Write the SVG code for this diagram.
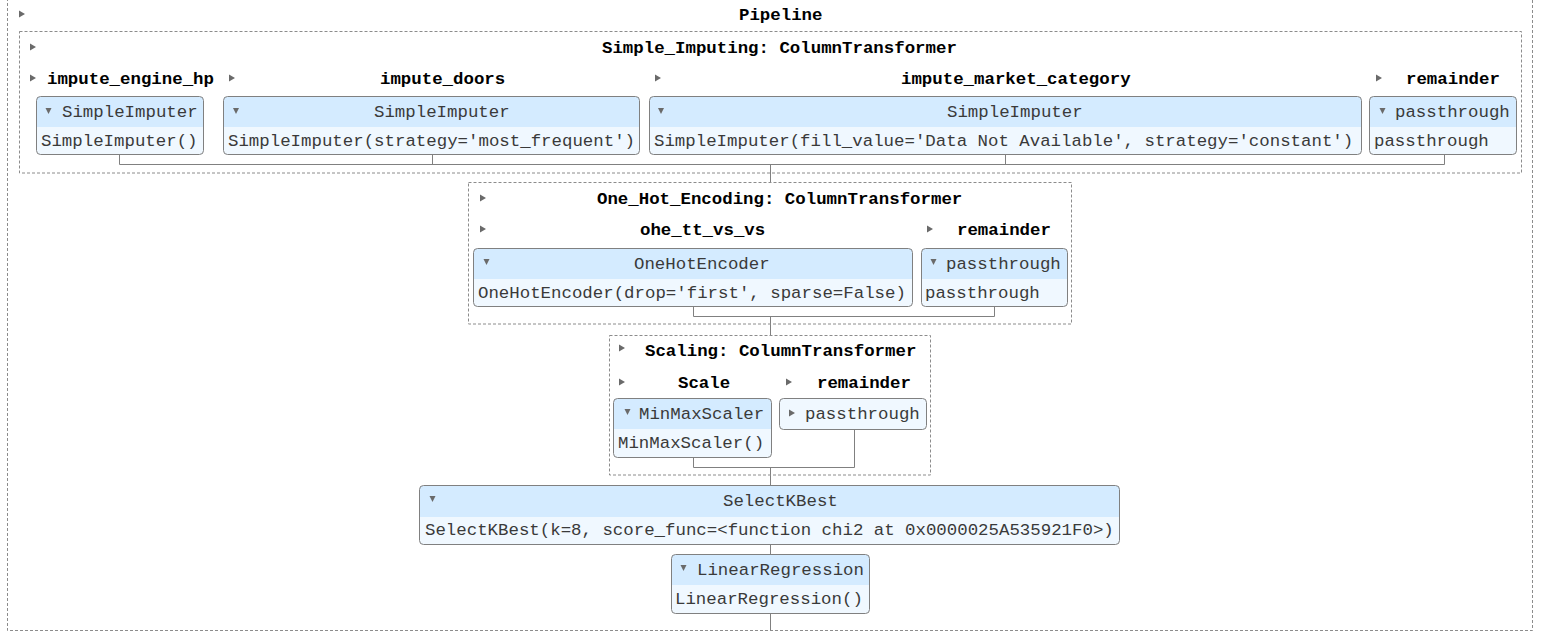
<svg xmlns="http://www.w3.org/2000/svg" width="1547" height="637" viewBox="0 0 1547 637">
<style>
text{font-family:"Liberation Mono","Courier New",monospace;font-size:17.4px;fill:#3a3a3a}
.b{font-weight:bold;fill:#000}
.dash{fill:none;stroke:#8c8c8c;stroke-width:1;stroke-dasharray:3 2}
.bg{fill:#f0f8ff}
.hd{fill:#d4ebff}
.bd{fill:none;stroke:#808080;stroke-width:1}
.ln{fill:none;stroke:#808080;stroke-width:1}
.tri{fill:#6a6a6a}
</style>
<defs>
<polygon id="tr" class="tri" points="0,-3.5 6,0 0,3.5"/>
<polygon id="td" class="tri" points="-3,-3 3,-3 0,3"/>
</defs>
<rect width="1547" height="637" fill="#fff"/>

<g id="connectors">
<path class="ln" d="M119.5,154 V164.5 H1444.5 V154 M432.5,154 V164.5 M1005.5,154 V164.5 M770.5,164.5 V182"/>
<path class="ln" d="M693.5,306 V316.5 H994.5 V306 M770.5,316.5 V335"/>
<path class="ln" d="M693.5,457 V467.5 H854.5 V430 M770.5,467.5 V485"/>
<path class="ln" d="M770.5,544 V554 M770.5,613 V630"/>
</g>

<g id="pipeline">
<rect class="dash" x="7.5" y="-10" width="1525" height="640.5"/>
<use href="#tr" x="19" y="14"/>
<text class="b" x="739" y="20">Pipeline</text>
</g>

<g id="simple_imputing">
<rect class="dash" x="19.5" y="31.5" width="1502" height="141.5"/>
<use href="#tr" x="30" y="47"/>
<text class="b" x="602" y="53">Simple_Imputing: ColumnTransformer</text>
</g>

<g id="impute_engine_hp">
<use href="#tr" x="30" y="78"/>
<text class="b" x="47" y="84">impute_engine_hp</text>
<rect class="bg" x="36.5" y="96.5" width="167" height="58" rx="4"/>
<rect class="hd" x="37" y="97" width="166" height="30"/>
<rect class="bd" x="36.5" y="96.5" width="167" height="58" rx="4"/>
<use href="#td" x="48.5" y="111"/>
<text x="62" y="117">SimpleImputer</text>
<text x="41" y="146">SimpleImputer()</text>
</g>

<g id="impute_doors">
<use href="#tr" x="229" y="78"/>
<text class="b" x="380" y="84">impute_doors</text>
<rect class="bg" x="223.5" y="96.5" width="416" height="58" rx="4"/>
<rect class="hd" x="224" y="97" width="415" height="30"/>
<rect class="bd" x="223.5" y="96.5" width="416" height="58" rx="4"/>
<use href="#td" x="236" y="111"/>
<text x="374" y="117">SimpleImputer</text>
<text x="228" y="146">SimpleImputer(strategy='most_frequent')</text>
</g>

<g id="impute_market_category">
<use href="#tr" x="655" y="78"/>
<text class="b" x="901" y="84">impute_market_category</text>
<rect class="bg" x="649.5" y="96.5" width="712" height="58" rx="4"/>
<rect class="hd" x="650" y="97" width="711" height="30"/>
<rect class="bd" x="649.5" y="96.5" width="712" height="58" rx="4"/>
<use href="#td" x="661" y="111"/>
<text x="947" y="117">SimpleImputer</text>
<text x="654" y="146">SimpleImputer(fill_value='Data Not Available', strategy='constant')</text>
</g>

<g id="imputing_remainder">
<use href="#tr" x="1376" y="78"/>
<text class="b" x="1406" y="84">remainder</text>
<rect class="bg" x="1369.5" y="96.5" width="147" height="58" rx="4"/>
<rect class="hd" x="1370" y="97" width="146" height="30"/>
<rect class="bd" x="1369.5" y="96.5" width="147" height="58" rx="4"/>
<use href="#td" x="1382.5" y="111"/>
<text x="1395" y="117">passthrough</text>
<text x="1374" y="146">passthrough</text>
</g>

<g id="one_hot_encoding">
<rect class="dash" x="468.5" y="182.5" width="603" height="141.5"/>
<use href="#tr" x="480" y="198"/>
<text class="b" x="597" y="204">One_Hot_Encoding: ColumnTransformer</text>
</g>

<g id="ohe_tt_vs_vs">
<use href="#tr" x="480" y="229"/>
<text class="b" x="640" y="235">ohe_tt_vs_vs</text>
<rect class="bg" x="473.5" y="248.5" width="439" height="58" rx="4"/>
<rect class="hd" x="474" y="249" width="438" height="30"/>
<rect class="bd" x="473.5" y="248.5" width="439" height="58" rx="4"/>
<use href="#td" x="486.5" y="262"/>
<text x="634" y="269">OneHotEncoder</text>
<text x="478" y="298">OneHotEncoder(drop='first', sparse=False)</text>
</g>

<g id="ohe_remainder">
<use href="#tr" x="927" y="229"/>
<text class="b" x="957" y="235">remainder</text>
<rect class="bg" x="921.5" y="248.5" width="146" height="58" rx="4"/>
<rect class="hd" x="922" y="249" width="145" height="30"/>
<rect class="bd" x="921.5" y="248.5" width="146" height="58" rx="4"/>
<use href="#td" x="933.5" y="262"/>
<text x="946" y="269">passthrough</text>
<text x="925" y="298">passthrough</text>
</g>

<g id="scaling">
<rect class="dash" x="609.5" y="335.5" width="321" height="139.5"/>
<use href="#tr" x="619" y="348"/>
<text class="b" x="645" y="356">Scaling: ColumnTransformer</text>
</g>

<g id="scale">
<use href="#tr" x="619" y="382"/>
<text class="b" x="678" y="388">Scale</text>
<rect class="bg" x="613.5" y="398.5" width="158" height="59" rx="4"/>
<rect class="hd" x="614" y="399" width="157" height="30"/>
<rect class="bd" x="613.5" y="398.5" width="158" height="59" rx="4"/>
<use href="#td" x="627.5" y="412"/>
<text x="639" y="419">MinMaxScaler</text>
<text x="618" y="448">MinMaxScaler()</text>
</g>

<g id="scaling_remainder">
<use href="#tr" x="786" y="382"/>
<text class="b" x="817" y="388">remainder</text>
<rect class="bg" x="779.5" y="398.5" width="147" height="31" rx="4"/>
<rect class="bd" x="779.5" y="398.5" width="147" height="31" rx="4"/>
<use href="#tr" x="789" y="413"/>
<text x="805" y="419">passthrough</text>
</g>

<g id="selectkbest">
<rect class="bg" x="419.5" y="485.5" width="700" height="59" rx="4"/>
<rect class="hd" x="420" y="486" width="699" height="31"/>
<rect class="bd" x="419.5" y="485.5" width="700" height="59" rx="4"/>
<use href="#td" x="432.5" y="499"/>
<text x="723" y="506">SelectKBest</text>
<text x="425" y="535">SelectKBest(k=8, score_func=&lt;function chi2 at 0x0000025A535921F0&gt;)</text>
</g>

<g id="linearregression">
<rect class="bg" x="671.5" y="554.5" width="198" height="59" rx="4"/>
<rect class="hd" x="672" y="555" width="197" height="30"/>
<rect class="bd" x="671.5" y="554.5" width="198" height="59" rx="4"/>
<use href="#td" x="683.5" y="568"/>
<text x="697" y="575">LinearRegression</text>
<text x="675" y="604">LinearRegression()</text>
</g>
</svg>
